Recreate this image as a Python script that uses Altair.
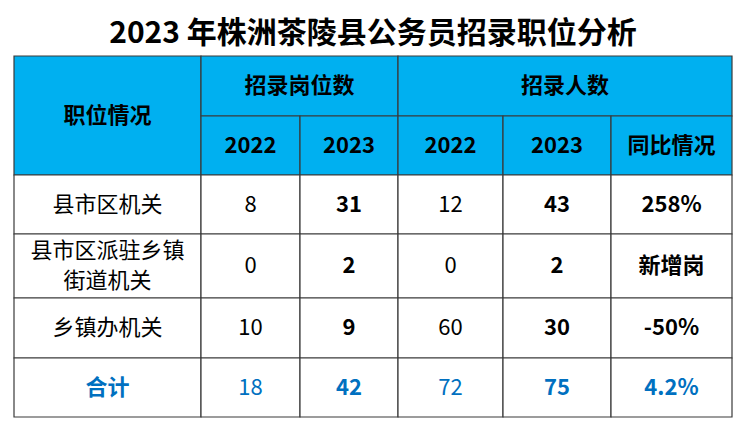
import altair as alt
import pandas as pd

# ---- data ----
title_text = "2023  年株洲茶陵县公务员招录职位分析"
categories = ["县市区机关", "县市区派驻乡镇\n街道机关", "乡镇办机关", "合计"]
posts_2022 = [8, 0, 10, 18]
posts_2023 = [31, 2, 9, 42]
people_2022 = [12, 0, 60, 72]
people_2023 = [43, 2, 30, 75]
yoy = ["258%", "新增岗", "-50%", "4.2%"]
group_headers = ["职位情况", "招录岗位数", "招录人数"]
sub_headers = ["2022", "2023", "2022", "2023", "同比情况"]

# ---- layout (table grid) ----
col_edges = [0, 187, 286, 384, 489, 597, 718]
row_edges = [0, 60, 119, 178, 242, 302, 361]
LINE_H = 30
W, H = col_edges[-1], row_edges[-1]
HEAD_FILL = "#00B0F0"
BLUE = "#0070C0"
FONT = "Noto Sans CJK SC"

cells = []
texts = []


def add(c0, c1, r0, r1, text, fill, color, bold):
    x0, x1, y0, y1 = col_edges[c0], col_edges[c1], row_edges[r0], row_edges[r1]
    cells.append(dict(x0=x0, x1=x1, y0=y0, y1=y1, fill=fill))
    lines = text.split("\n")
    n = len(lines)
    for i, ln in enumerate(lines):
        texts.append(dict(xc=(x0 + x1) / 2, yc=(y0 + y1) / 2 + (i - (n - 1) / 2) * LINE_H,
                          text=ln, color=color, bold=bold))


# header
add(0, 1, 0, 2, group_headers[0], HEAD_FILL, "black", True)
add(1, 3, 0, 1, group_headers[1], HEAD_FILL, "black", True)
add(3, 6, 0, 1, group_headers[2], HEAD_FILL, "black", True)
for i, s in enumerate(sub_headers):
    add(1 + i, 2 + i, 1, 2, s, HEAD_FILL, "black", True)

# body
for r, cat in enumerate(categories):
    total = cat == "合计"
    col = BLUE if total else "black"
    vals = [posts_2022[r], posts_2023[r], people_2022[r], people_2023[r], yoy[r]]
    add(0, 1, 2 + r, 3 + r, cat, "white", col, total)
    for i, v in enumerate(vals):
        add(1 + i, 2 + i, 2 + r, 3 + r, str(v), "white", col, i in (1, 3, 4))

cdf = pd.DataFrame(cells)
tdf = pd.DataFrame(texts)

xs = alt.Scale(domain=[0, W], range=[0, W])
ys = alt.Scale(domain=[0, H], range=[0, H])

rects = alt.Chart(cdf).mark_rect(stroke="#3a3a3a", strokeWidth=1.2).encode(
    x=alt.X("x0:Q", scale=xs, axis=None),
    x2="x1:Q",
    y=alt.Y("y0:Q", scale=ys, axis=None),
    y2="y1:Q",
    fill=alt.Fill("fill:N", scale=None),
)


def text_layer(bold):
    return alt.Chart(tdf).transform_filter(
        alt.datum.bold == bold
    ).mark_text(
        font=FONT, fontSize=22, fontWeight="bold" if bold else "normal",
        baseline="middle", align="center"
    ).encode(
        x=alt.X("xc:Q", scale=xs, axis=None),
        y=alt.Y("yc:Q", scale=ys, axis=None),
        text="text:N",
        color=alt.Color("color:N", scale=None),
    )


chart = alt.layer(rects, text_layer(True), text_layer(False)).properties(
    width=W, height=H,
    title=alt.TitleParams(title_text, font=FONT, fontSize=30, fontWeight="bold",
                          color="black", anchor="middle", offset=6),
    autosize=alt.AutoSizeParams(type="none"),
    padding={"left": 6, "top": 48, "right": 6, "bottom": 3},
).configure_view(stroke=None)

chart.save("out.html", embed_options={"renderer": "svg", "actions": False})
